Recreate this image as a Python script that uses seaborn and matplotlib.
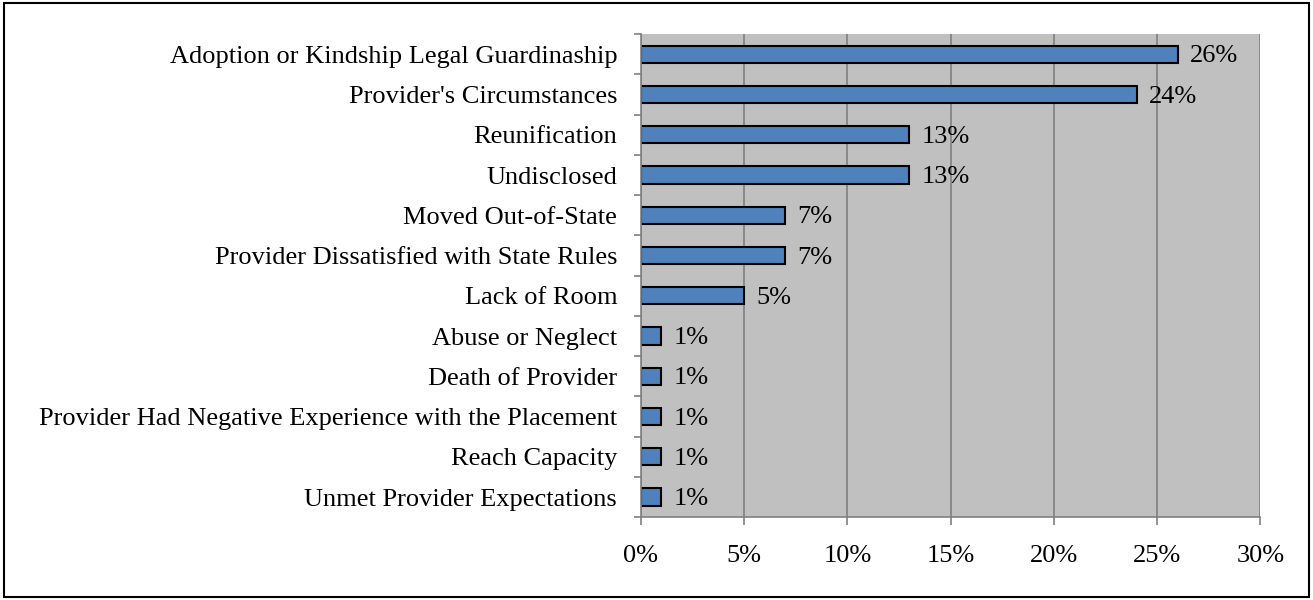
import seaborn as sns
import pandas as pd
import matplotlib.pyplot as plt
from matplotlib.ticker import FixedLocator, PercentFormatter
from matplotlib.patches import Rectangle

reasons = [
    "Adoption or Kindship Legal Guardinaship",
    "Provider's Circumstances",
    "Reunification",
    "Undisclosed",
    "Moved Out-of-State",
    "Provider Dissatisfied with State Rules",
    "Lack of Room",
    "Abuse or Neglect",
    "Death of Provider",
    "Provider Had Negative Experience with the Placement",
    "Reach Capacity",
    "Unmet Provider Expectations",
]
percents = [26, 24, 13, 13, 7, 7, 5, 1, 1, 1, 1, 1]

data = pd.DataFrame({"reason": reasons, "pct": percents})

sns.set_style("white")
plt.rcParams["font.family"] = ["Liberation Serif", "DejaVu Serif"]
plt.rcParams["text.color"] = "black"

fig = plt.figure(figsize=(13.13, 6), dpi=100)
ax = fig.add_axes([0.488, 0.138, 0.472, 0.805])

sns.barplot(data=data, x="pct", y="reason", orient="h", color="#4F81BD",
            saturation=1, edgecolor="black", linewidth=1.5, width=0.43, ax=ax)

ax.set_facecolor("#C0C0C0")
ax.set_xlim(0, 30)
ax.set_ylim(len(reasons) - 0.5, -0.5)
ax.xaxis.set_major_locator(FixedLocator(range(0, 31, 5)))
ax.xaxis.set_major_formatter(PercentFormatter(decimals=0))
ax.grid(axis="x", color="#808080", linewidth=1.2)
ax.set_axisbelow(True)
ax.set_xlabel("")
ax.set_ylabel("")

for s in ["top", "right"]:
    ax.spines[s].set_visible(False)
for s in ["left", "bottom"]:
    ax.spines[s].set_color("#808080")
    ax.spines[s].set_linewidth(1.2)

# ticks at category boundaries
ax.set_yticks([i - 0.5 for i in range(len(reasons) + 1)], minor=True)
ax.tick_params(axis="y", which="major", left=True, length=0, labelsize=19,
               labelcolor="black", pad=17)
ax.tick_params(axis="y", which="minor", left=True, length=5, color="#808080", width=1.2)
ax.tick_params(axis="x", bottom=True, length=6, color="#808080", width=1.2,
               labelsize=19, labelcolor="black", pad=14)

for i, v in enumerate(percents):
    ax.text(v + 0.58, i + 0.05, f"{v}%", va="center", ha="left", fontsize=19, color="black")

fig.patches.append(Rectangle((0.003, 0.005), 0.994, 0.99, transform=fig.transFigure,
                             fill=False, edgecolor="black", linewidth=1.5))

fig.savefig("out.png", dpi=100)
